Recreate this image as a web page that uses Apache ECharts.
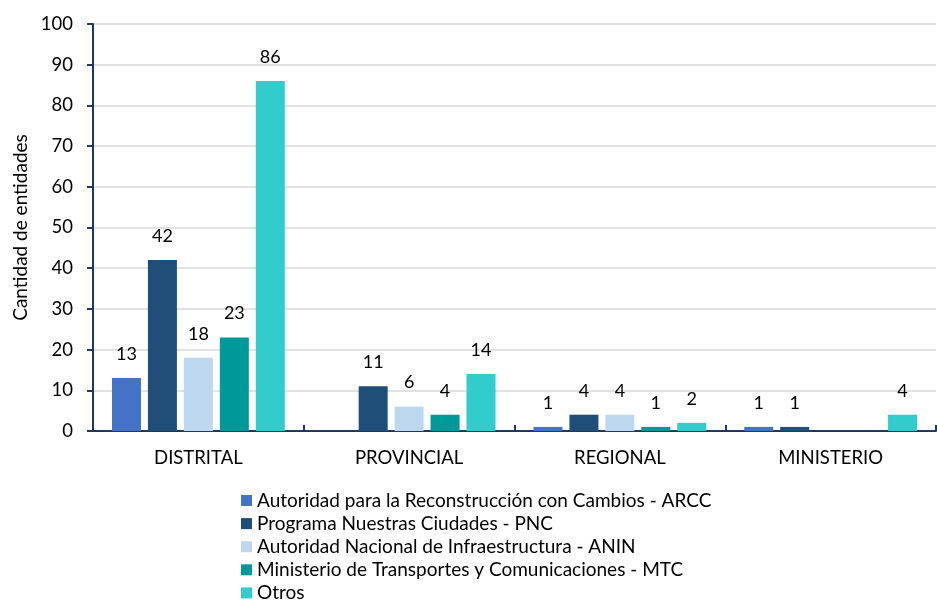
<!DOCTYPE html>
<html>
<head>
<meta charset="utf-8">
<script src="https://cdn.jsdelivr.net/npm/echarts@6/dist/echarts.min.js"></script>
<style>
  html, body { margin: 0; padding: 0; background: #fff; }
  #chart { width: 937px; height: 603px; }
</style>
</head>
<body>
<div id="chart"></div>
<script>
// Entidades por nivel de gobierno
const categories = ['DISTRITAL', 'PROVINCIAL', 'REGIONAL', 'MINISTERIO'];
const seriesNames = [
  'Autoridad para la Reconstrucción con Cambios - ARCC',
  'Programa Nuestras Ciudades - PNC',
  'Autoridad Nacional de Infraestructura - ANIN',
  'Ministerio de Transportes y Comunicaciones - MTC',
  'Otros'
];
const arcc = [13, null, 1, 1];
const pnc = [42, 11, 4, 1];
const anin = [18, 6, 4, null];
const mtc = [23, 4, 1, null];
const otros = [86, 14, 2, 4];
const yTicks = [0, 10, 20, 30, 40, 50, 60, 70, 80, 90, 100];

const colors = ['#4472C4', '#1F4E79', '#BDD7EE', '#009999', '#33CCCC'];
const font = 'Lato, "Open Sans", sans-serif';
const values = [arcc, pnc, anin, mtc, otros];

const chart = echarts.init(document.getElementById('chart'), null, { renderer: 'canvas' });

chart.setOption({
  animation: false,
  textStyle: { fontFamily: font, color: '#000' },
  grid: { left: 93, right: 1, top: 24, bottom: 172, containLabel: false },
  legend: {
    orient: 'vertical',
    left: 241,
    top: 491,
    height: 140,
    padding: 0,
    itemWidth: 11,
    itemHeight: 11,
    itemGap: 4.1,
    icon: 'rect',
    textStyle: { fontFamily: font, fontSize: 19, lineHeight: 18, color: '#000' },
    data: seriesNames
  },
  xAxis: {
    type: 'category',
    data: categories,
    axisLine: { lineStyle: { color: '#1F3864', width: 2 } },
    axisTick: { show: true, inside: true, length: 6, lineStyle: { color: '#1F3864', width: 2 } },
    axisLabel: { fontSize: 18.5, color: '#000', margin: 18, fontFamily: font }
  },
  yAxis: {
    type: 'value',
    min: yTicks[0],
    max: yTicks[yTicks.length - 1],
    interval: 10,
    name: 'Cantidad de entidades',
    nameLocation: 'middle',
    nameGap: 63,
    nameTextStyle: { fontSize: 19, color: '#000', fontFamily: font },
    axisLine: { show: true, lineStyle: { color: '#1F3864', width: 2 } },
    axisTick: { show: true, length: 6, lineStyle: { color: '#1F3864', width: 2 } },
    axisLabel: { fontSize: 18.5, color: '#000', margin: 20, fontFamily: font },
    splitLine: { lineStyle: { color: '#D9D9D9', width: 1.5 } }
  },
  series: seriesNames.map((name, i) => ({
    name: name,
    type: 'bar',
    data: values[i],
    barGap: '24%',
    barCategoryGap: '18%',
    itemStyle: { color: colors[i] },
    label: {
      show: true,
      position: 'top',
      distance: 15,
      fontSize: 18,
      color: '#000',
      fontFamily: font
    }
  }))
});
</script>
</body>
</html>
